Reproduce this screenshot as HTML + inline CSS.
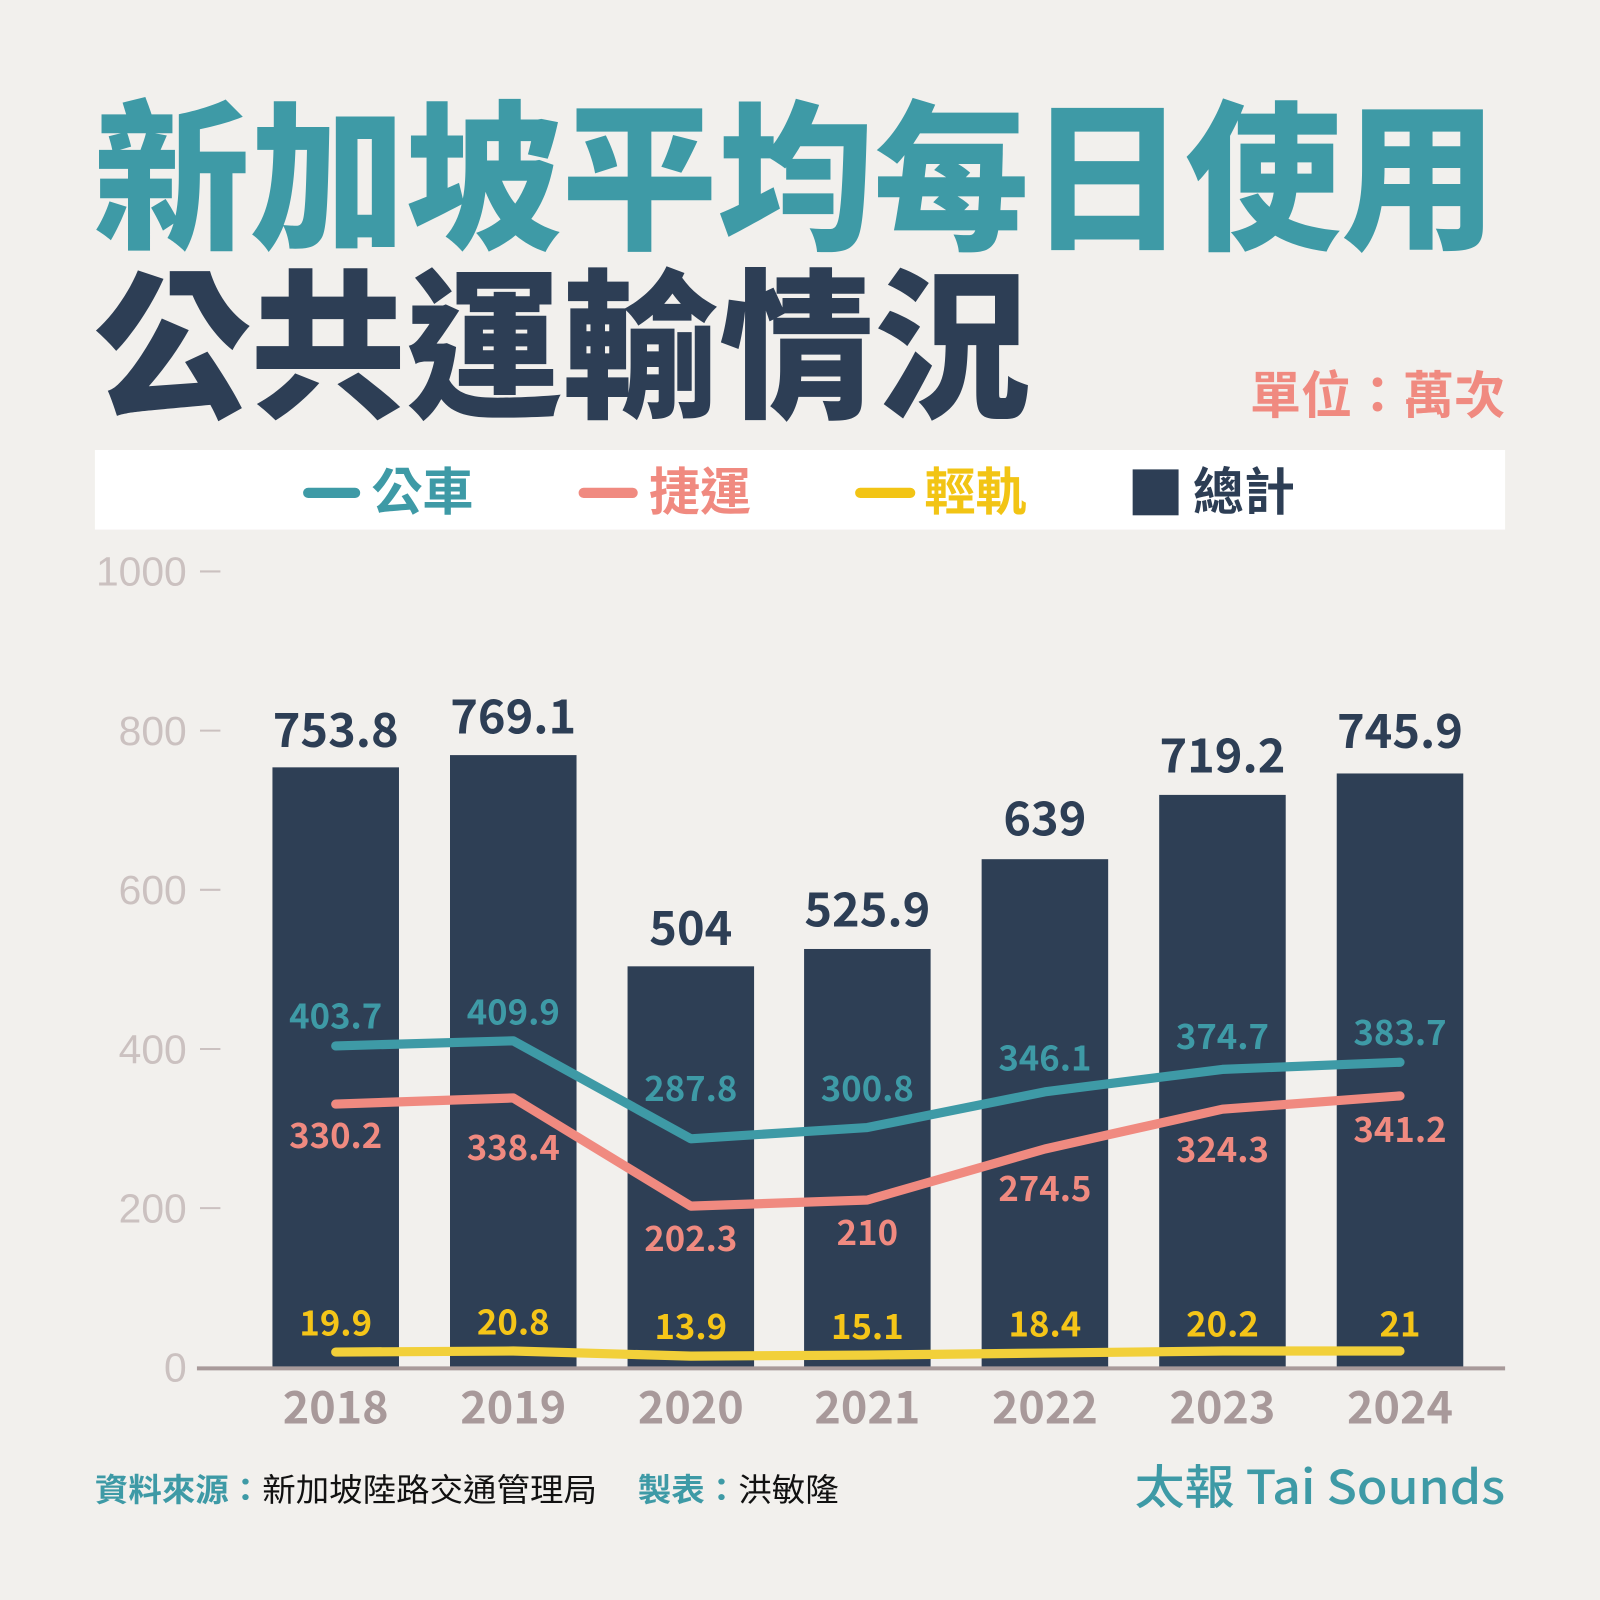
<!DOCTYPE html>
<html><head><meta charset="utf-8"><style>
html,body{margin:0;padding:0;background:#f2f0ed;}
svg{display:block;}
text{font-family:"Liberation Sans","Noto Sans CJK TC",sans-serif;}
.cjk{font-family:"Noto Sans CJK TC","Noto Sans CJK SC",sans-serif;}
</style></head><body>
<svg width="1600" height="1600" viewBox="0 0 1568 1568" xmlns="http://www.w3.org/2000/svg">
<rect width="1568" height="1568" fill="#f2f0ed"/>
<text class="cjk" x="92" y="232" font-size="158" font-weight="900" fill="#3e9aa6" textLength="1375" lengthAdjust="spacingAndGlyphs">新加坡平均每日使用</text>
<text class="cjk" x="92" y="397" font-size="158" font-weight="900" fill="#2d3e55" textLength="918" lengthAdjust="spacingAndGlyphs">公共運輸情況</text>
<text class="cjk" x="1475" y="405" font-size="50" font-weight="700" fill="#f08a80" text-anchor="end">單位：萬次</text>
<rect x="93" y="441" width="1382" height="78" fill="#fff"/>
<g stroke-linecap="round" stroke-width="10">
<line x1="302" y1="483" x2="348" y2="483" stroke="#3e9aa6"/>
<line x1="572" y1="483" x2="620" y2="483" stroke="#f08a80"/>
<line x1="843" y1="483" x2="892" y2="483" stroke="#f2c414"/>
</g>
<g class="cjk" font-size="50" font-weight="700">
<text class="cjk" x="364" y="500" fill="#3e9aa6">公車</text>
<text class="cjk" x="636" y="500" fill="#f08a80">捷運</text>
<text class="cjk" x="906" y="500" fill="#f2c414">輕軌</text>
<rect x="1110" y="460" width="45" height="45" fill="#2d3e55"/>
<text class="cjk" x="1169" y="500" fill="#2d3e55">總計</text>
</g>
<g font-size="40" fill="#cbc1c0" text-anchor="end" font-family="Noto Sans CJK TC, sans-serif" font-weight="300">
<text x="183" y="574">1000</text><text x="183" y="730">800</text><text x="183" y="886">600</text><text x="183" y="1042">400</text><text x="183" y="1198">200</text><text x="183" y="1354">0</text>
</g>
<g stroke="#cbc1c0" stroke-width="2">
<line x1="196" y1="560" x2="216" y2="560"/><line x1="196" y1="716" x2="216" y2="716"/><line x1="196" y1="872" x2="216" y2="872"/><line x1="196" y1="1028" x2="216" y2="1028"/><line x1="196" y1="1184" x2="216" y2="1184"/>
</g>
<g fill="#2e3f55">
<rect x="267" y="752" width="124" height="588"/>
<rect x="441" y="740" width="124" height="600"/>
<rect x="615" y="947" width="124" height="393"/>
<rect x="788" y="930" width="124" height="410"/>
<rect x="962" y="842" width="124" height="498"/>
<rect x="1136" y="779" width="124" height="561"/>
<rect x="1310" y="758" width="124" height="582"/>
</g>
<line x1="193" y1="1341" x2="1475" y2="1341" stroke="#a89a9a" stroke-width="4"/>
<g fill="none" stroke-width="9" stroke-linecap="round" stroke-linejoin="round">
<polyline stroke="#3e9aa6" points="329,1025 503,1020 677,1116 850,1105 1024,1070 1198,1048 1372,1041"/>
<polyline stroke="#f08a80" points="329,1082 503,1076 677,1182 850,1176 1024,1126 1198,1087 1372,1074"/>
<polyline stroke="#f2d03a" points="329,1325 503,1324 677,1329 850,1328 1024,1326 1198,1324 1372,1324"/>
</g>
<g class="cjk" font-size="46" font-weight="700" fill="#2d3e55" text-anchor="middle">
<text class="cjk" x="329" y="732">753.8</text><text class="cjk" x="503" y="719">769.1</text><text class="cjk" x="677" y="926">504</text><text class="cjk" x="850" y="908">525.9</text><text class="cjk" x="1024" y="819">639</text><text class="cjk" x="1198" y="757">719.2</text><text class="cjk" x="1372" y="733">745.9</text>
</g>
<g class="cjk" font-size="34" font-weight="700" fill="#3e9aa6" text-anchor="middle">
<text class="cjk" x="329" y="1008">403.7</text><text class="cjk" x="503" y="1004">409.9</text><text class="cjk" x="677" y="1079">287.8</text><text class="cjk" x="850" y="1079">300.8</text><text class="cjk" x="1024" y="1049">346.1</text><text class="cjk" x="1198" y="1028">374.7</text><text class="cjk" x="1372" y="1024">383.7</text>
</g>
<g class="cjk" font-size="34" font-weight="700" fill="#f08a80" text-anchor="middle">
<text class="cjk" x="329" y="1125">330.2</text><text class="cjk" x="503" y="1137">338.4</text><text class="cjk" x="677" y="1226">202.3</text><text class="cjk" x="850" y="1220">210</text><text class="cjk" x="1024" y="1177">274.5</text><text class="cjk" x="1198" y="1139">324.3</text><text class="cjk" x="1372" y="1119">341.2</text>
</g>
<g class="cjk" font-size="34" font-weight="700" fill="#f5c518" text-anchor="middle">
<text class="cjk" x="329" y="1309">19.9</text><text class="cjk" x="503" y="1308">20.8</text><text class="cjk" x="677" y="1312">13.9</text><text class="cjk" x="850" y="1312">15.1</text><text class="cjk" x="1024" y="1310">18.4</text><text class="cjk" x="1198" y="1310">20.2</text><text class="cjk" x="1372" y="1310">21</text>
</g>
<g class="cjk" font-size="44" font-weight="700" fill="#a8999a" text-anchor="middle">
<text class="cjk" x="329" y="1395">2018</text><text class="cjk" x="503" y="1395">2019</text><text class="cjk" x="677" y="1395">2020</text><text class="cjk" x="850" y="1395">2021</text><text class="cjk" x="1024" y="1395">2022</text><text class="cjk" x="1198" y="1395">2023</text><text class="cjk" x="1372" y="1395">2024</text>
</g>
<text class="cjk" x="93" y="1471" font-size="31" textLength="492" lengthAdjust="spacingAndGlyphs"><tspan fill="#3e9aa6" font-weight="700">資料來源：</tspan><tspan fill="#111">新加坡陸路交通管理局</tspan></text>
<text class="cjk" x="625" y="1471" font-size="31" textLength="197" lengthAdjust="spacingAndGlyphs"><tspan fill="#3e9aa6" font-weight="700">製表：</tspan><tspan fill="#111">洪敏隆</tspan></text>
<text class="cjk" x="1112" y="1474" font-size="46" font-weight="500" fill="#3e9aa6" textLength="363" lengthAdjust="spacingAndGlyphs">太報 Tai Sounds</text>
</svg>
</body></html>
